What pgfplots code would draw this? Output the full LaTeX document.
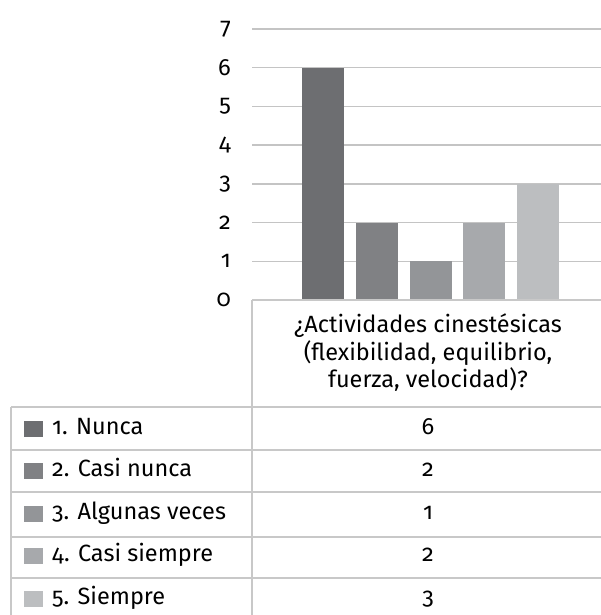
\documentclass[border=0pt]{standalone}
\usepackage{fontspec}
\setmainfont[Numbers=OldStyle]{Fira Sans}
\usepackage{pgfplots}
\pgfplotsset{compat=1.18}
\definecolor{c1}{HTML}{6D6E71}
\definecolor{c2}{HTML}{808184}
\definecolor{c3}{HTML}{939598}
\definecolor{c4}{HTML}{A7A9AC}
\definecolor{c5}{HTML}{BCBEC0}
\definecolor{gridgray}{HTML}{C4C4C4}
\definecolor{tabgray}{HTML}{C8C8C8}
\newcommand{\tf}{\fontsize{23.5}{27.5}\selectfont}
\begin{document}
\begin{tikzpicture}[x=1pt,y=1pt]
\path[use as bounding box] (0,0) rectangle (601,615);
\begin{axis}[
  at={(252pt,315pt)}, anchor=south west,
  scale only axis, width=349pt, height=271pt,
  xmin=-0.321, xmax=6.172, ymin=0, ymax=7,
  ytick={0,...,7}, xtick=\empty,
  ymajorgrids, grid style={draw=gridgray, line width=1.4pt},
  axis line style={draw=none},
  major tick length=0pt,
  /pgf/number format/assume math mode=true,
  yticklabel style={font=\tf, anchor=east, inner sep=0pt, xshift=-21pt},
  clip=false,
]
\addplot[ybar, bar shift=0pt, bar width=42pt, fill=c1, draw=none] coordinates {(1,6)};
\addplot[ybar, bar shift=0pt, bar width=42pt, fill=c2, draw=none] coordinates {(2,2)};
\addplot[ybar, bar shift=0pt, bar width=42pt, fill=c3, draw=none] coordinates {(3,1)};
\addplot[ybar, bar shift=0pt, bar width=42pt, fill=c4, draw=none] coordinates {(4,2)};
\addplot[ybar, bar shift=0pt, bar width=42pt, fill=c5, draw=none] coordinates {(5,3)};
\end{axis}
% table
\draw[tabgray, line width=1.5pt] (252,315) -- (601,315);
\draw[tabgray, line width=1.5pt] (252,315) -- (252,0);
\draw[tabgray, line width=1.5pt] (11,208) -- (11,0);
\foreach \yy in {208,165,123,78,37} \draw[tabgray, line width=1.5pt] (11,\yy) -- (601,\yy);
\node[align=center, font=\tf] at (428,262) {¿Actividades cinestésicas\\(flexibilidad, equilibrio,\\fuerza, velocidad)?};
\foreach \yc/\lab/\val/\col in {186.3/1. Nunca/6/c1, 143.5/2. Casi nunca/2/c2, 101/3. Algunas veces/1/c3, 59/4. Casi siempre/2/c4, 15.5/5. Siempre/3/c5} {
  \fill[\col] (24,\yc-8) rectangle (43,\yc+8);
  \node[anchor=base west, font=\tf, inner sep=0pt] at (52,\yc-5.5) {\lab};
  \node[anchor=base, font=\tf, inner sep=0pt] at (428,\yc-5.5) {\val};
}
\end{tikzpicture}
\end{document}
